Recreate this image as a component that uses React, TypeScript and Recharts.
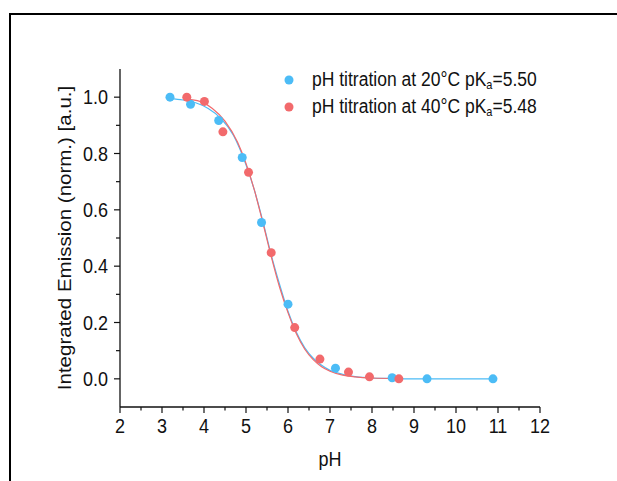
import React from "react";
import {
  ComposedChart,
  Scatter,
  Line,
  XAxis,
  YAxis,
  Legend,
  Label,
} from "recharts";

const ph20 = [3.19, 3.68, 4.35, 4.91, 5.37, 6.0, 7.13, 8.48, 9.31, 10.88];
const em20 = [1.0, 0.975, 0.917, 0.786, 0.555, 0.265, 0.038, 0.004, 0.0, 0.0];
const ph40 = [3.59, 4.01, 4.45, 5.06, 5.6, 6.16, 6.76, 7.44, 7.94, 8.64];
const em40 = [1.0, 0.985, 0.877, 0.733, 0.448, 0.182, 0.07, 0.024, 0.007, 0.0];

// fitted curves
const fitPh20 = [3.19, 3.5, 3.8, 4.1, 4.4, 4.7, 5.0, 5.2, 5.4, 5.6, 5.8, 6.0, 6.2, 6.4, 6.6, 6.8, 7.0, 7.3, 7.6, 8.0, 8.5, 9.0, 10.88];
const fitEm20 = [0.995, 0.99, 0.98, 0.96, 0.925, 0.865, 0.76, 0.67, 0.56, 0.44, 0.335, 0.24, 0.165, 0.11, 0.073, 0.048, 0.03, 0.016, 0.008, 0.003, 0.001, 0.0, 0.0];
const fitPh40 = [3.59, 3.9, 4.2, 4.5, 4.8, 5.0, 5.2, 5.4, 5.6, 5.8, 6.0, 6.2, 6.4, 6.6, 6.8, 7.0, 7.3, 7.6, 8.0, 8.64];
const fitEm40 = [0.993, 0.985, 0.96, 0.915, 0.84, 0.765, 0.67, 0.555, 0.435, 0.325, 0.235, 0.16, 0.105, 0.068, 0.043, 0.027, 0.013, 0.007, 0.003, 0.001];

const xTicks = [2, 2.5, 3, 3.5, 4, 4.5, 5, 5.5, 6, 6.5, 7, 7.5, 8, 8.5, 9, 9.5, 10, 10.5, 11, 11.5, 12];
const yTicks = [0, 0.1, 0.2, 0.3, 0.4, 0.5, 0.6, 0.7, 0.8, 0.9, 1.0];
const yMajor = ["0.0", "0.2", "0.4", "0.6", "0.8", "1.0"];

const BLUE = "#4cbcf6";
const RED = "#f26a6c";
const FONT = "'Liberation Sans', Arial, sans-serif";
const STRETCH = 1.14; // the original figure is a bit taller than wide

const zip = (xs: number[], ys: number[]) => xs.map((x, i) => ({ ph: x, em: ys[i] }));

// horizontal text, stretched vertically like the source image
const SText = ({ x, y, anchor, children }: any) => (
  <g transform={`translate(${x},${y}) scale(1,${STRETCH})`}>
    <text x={0} y={0} textAnchor={anchor} fontSize={18} fontFamily={FONT} fill="#111">
      {children}
    </text>
  </g>
);

const XTick = (props: any) => {
  const { x, y, payload } = props;
  const major = Number.isInteger(payload.value);
  return (
    <g>
      <line x1={x} x2={x} y1={y} y2={y + (major ? 6 : 3.5)} stroke="#111" strokeWidth={1.2} />
      {major && (
        <SText x={x} y={y + 26} anchor="middle">
          {payload.value}
        </SText>
      )}
    </g>
  );
};

const YTick = (props: any) => {
  const { x, y, payload } = props;
  const label = payload.value.toFixed(1);
  const major = yMajor.includes(label);
  return (
    <g>
      <line x1={x} x2={x - (major ? 6 : 4)} y1={y} y2={y} stroke="#111" strokeWidth={1.2} />
      {major && (
        <SText x={x - 12} y={y + 7.3} anchor="end">
          {label}
        </SText>
      )}
    </g>
  );
};

const LegendBox = () => {
  const rows = [
    { color: BLUE, t: "20", k: "5.50" },
    { color: RED, t: "40", k: "5.48" },
  ];
  return (
    <div style={{ fontFamily: FONT, fontSize: 17.5, color: "#111" }}>
      {rows.map((r) => (
        <div key={r.t} style={{ display: "flex", alignItems: "center", height: 27, whiteSpace: "nowrap" }}>
          <svg width={18} height={18} style={{ marginRight: 14 }}>
            <circle cx={9} cy={9} r={4.5} fill={r.color} />
          </svg>
          <span style={{ display: "inline-block", transform: `scaleY(${STRETCH})` }}>
            pH titration at {r.t}°C pK
            <sub style={{ fontSize: 11, verticalAlign: "-3px" }}>a</sub>={r.k}
          </span>
        </div>
      ))}
    </div>
  );
};

export default function App() {
  return (
    <div style={{ position: "absolute", left: 0, top: 0, width: 617, height: 481, background: "#fff", overflow: "hidden" }}>
      <div
        style={{
          position: "absolute",
          left: 9,
          top: 13,
          right: -10,
          bottom: -10,
          borderTop: "2px solid #000",
          borderLeft: "2px solid #000",
        }}
      />
      <div style={{ position: "absolute", left: 0, top: 0 }}>
        <ComposedChart width={617} height={481} margin={{ top: 69, right: 77, bottom: 14, left: 60 }}>
          <XAxis
            type="number"
            dataKey="ph"
            domain={[2, 12]}
            ticks={xTicks}
            interval={0}
            allowDataOverflow
            height={60}
            tickSize={0}
            tickMargin={0}
            tickLine={false}
            axisLine={{ stroke: "#111", strokeWidth: 1.3 }}
            tick={<XTick />}
          >
            <Label
              content={(p: any) => (
                <SText x={p.viewBox.x + p.viewBox.width / 2} y={p.viewBox.y + 59} anchor="middle">
                  pH
                </SText>
              )}
            />
          </XAxis>
          <YAxis
            type="number"
            dataKey="em"
            domain={[-0.1, 1.1]}
            ticks={yTicks}
            interval={0}
            allowDataOverflow
            width={60}
            tickSize={0}
            tickMargin={0}
            tickLine={false}
            axisLine={{ stroke: "#111", strokeWidth: 1.3 }}
            tick={<YTick />}
          >
            <Label
              content={(p: any) => {
                const cy = p.viewBox.y + p.viewBox.height / 2;
                return (
                  <g transform={`translate(71,${cy}) rotate(-90) scale(${STRETCH},1)`}>
                    <text x={0} y={0} textAnchor="middle" fontSize={18} fontFamily={FONT} fill="#111">
                      Integrated Emission (norm.) [a.u.]
                    </text>
                  </g>
                );
              }}
            />
          </YAxis>
          <Legend
            content={<LegendBox />}
            layout="vertical"
            align="center"
            verticalAlign="middle"
            wrapperStyle={{ left: 280, top: 66, width: 300, height: 60 }}
          />
          <Line data={zip(fitPh20, fitEm20)} dataKey="em" type="monotone" stroke={BLUE} strokeWidth={1.2} dot={false} isAnimationActive={false} />
          <Line data={zip(fitPh40, fitEm40)} dataKey="em" type="monotone" stroke={RED} strokeWidth={1.2} dot={false} isAnimationActive={false} />
          <Scatter data={zip(ph20, em20)} fill={BLUE} shape={(p: any) => <circle cx={p.cx} cy={p.cy} r={4.5} fill={BLUE} />} isAnimationActive={false} />
          <Scatter data={zip(ph40, em40)} fill={RED} shape={(p: any) => <circle cx={p.cx} cy={p.cy} r={4.5} fill={RED} />} isAnimationActive={false} />
        </ComposedChart>
      </div>
    </div>
  );
}
